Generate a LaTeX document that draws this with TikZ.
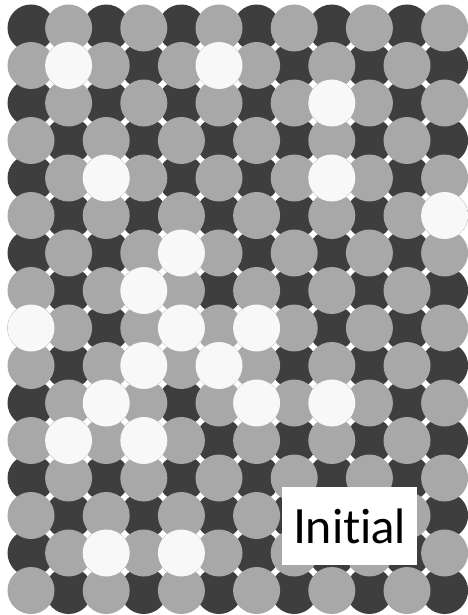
\documentclass[tikz,border=0pt]{standalone}
\usepackage{fontspec}
\usepackage{tikz}
\newfontfamily\tagfont[Ligatures=NoCommon]{Lato}

\definecolor{discdark}{RGB}{62,62,62}
\definecolor{discgrey}{RGB}{168,168,168}
\definecolor{discwhite}{RGB}{248,248,248}

\begin{document}
\begin{tikzpicture}[
   x=1pt,y=-1pt,
   disc/.style={circle,inner sep=0pt,minimum size=47pt},
   darkdisc/.style={disc,fill=discdark},
   greydisc/.style={disc,fill=discgrey},
   whitedisc/.style={disc,fill=discwhite},
   tag/.style={fill=white,inner sep=0pt,minimum width=135pt,minimum height=78pt,
      font=\tagfont\fontsize{47}{47}\selectfont}
]
   \useasboundingbox[fill=white] (0,0) rectangle (467,615);

   % dark discs first, the grey ones lie over them
   \foreach \r in {0,...,15} {
      \foreach \c in {0,...,11} {
         \pgfmathtruncatemacro\p{mod(\r+\c,2)}
         \ifnum\p=0
            \node[darkdisc] (d-\r-\c) at ({31+37.6*\c},{28+37.5*\r}) {};
         \fi
      }
   }
   \foreach \r in {0,...,15} {
      \foreach \c in {0,...,11} {
         \pgfmathtruncatemacro\p{mod(\r+\c,2)}
         \ifnum\p=1
            \node[greydisc] (g-\r-\c) at ({31+37.6*\c},{28+37.5*\r}) {};
         \fi
      }
   }

   % white discs
   \foreach \r/\c in {1/1,1/5,2/8,4/2,4/8,5/11,6/4,7/3,8/0,8/4,8/6,
      9/3,9/5,10/2,10/6,10/8,11/1,11/3,14/2,14/4} {
      \node[whitedisc] (w-\r-\c) at ({31+37.6*\c},{28+37.5*\r}) {};
   }

   \node[tag] (initial) at (349.5,526) {Initial};
\end{tikzpicture}
\end{document}
